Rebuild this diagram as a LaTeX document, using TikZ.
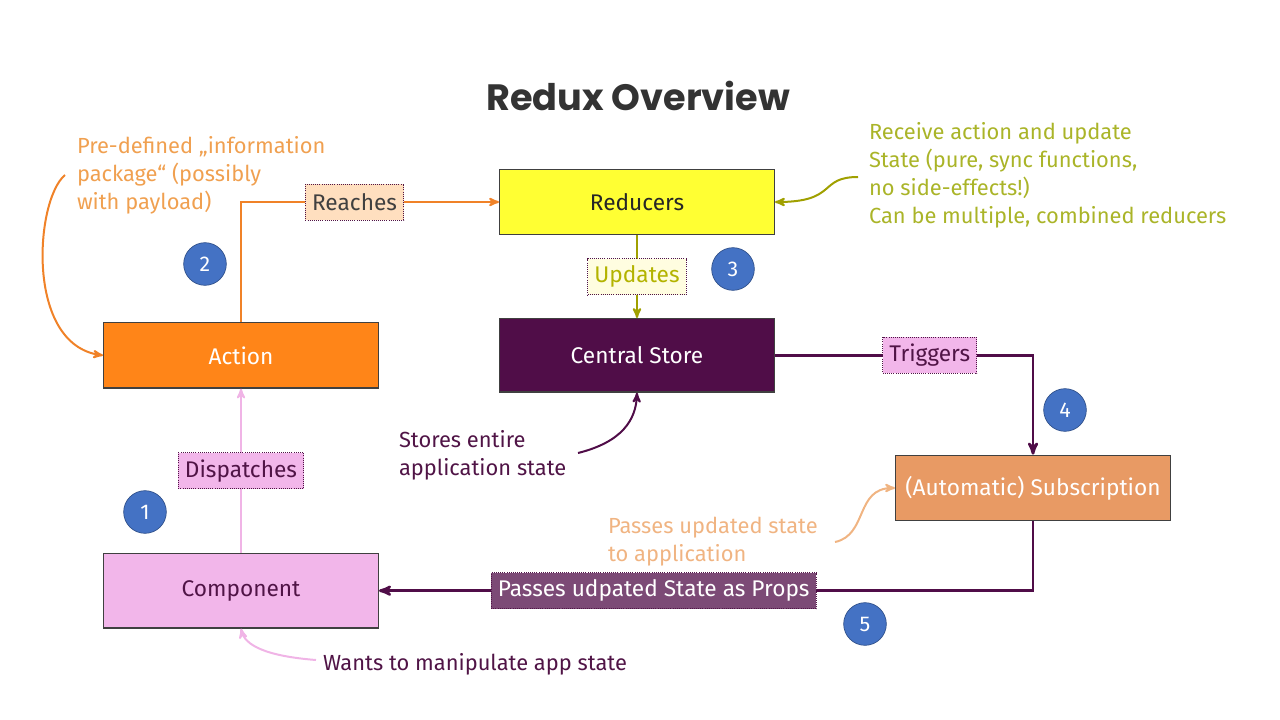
\documentclass[tikz,border=0pt]{standalone}
\usepackage{fontspec}
\setmainfont{Fira Sans}
\newfontfamily\titlefont{Poppins}
\usetikzlibrary{arrows}
\usetikzlibrary{positioning}

\definecolor{actfill}{RGB}{255,133,24}
\definecolor{redfill}{RGB}{255,255,51}
\definecolor{storefill}{RGB}{80,13,72}
\definecolor{subfill}{RGB}{232,154,100}
\definecolor{compfill}{RGB}{242,182,234}
\definecolor{numblue}{RGB}{68,114,196}
\definecolor{orangeline}{RGB}{240,130,40}
\definecolor{orangetext}{RGB}{240,160,80}
\definecolor{oliveline}{RGB}{160,160,0}
\definecolor{olivetext}{RGB}{170,180,40}
\definecolor{purpletext}{RGB}{80,20,70}
\definecolor{peachtext}{RGB}{240,180,130}
\definecolor{pinkline}{RGB}{240,180,230}

\begin{document}
\begin{tikzpicture}[x=0.75pt,y=-0.75pt,>=stealth',line width=1.5pt,
  main node/.style={rectangle,draw=black!75,line width=1pt,minimum width=206pt,minimum height=49pt,font=\fontsize{17}{20}\selectfont},
  tag node/.style={rectangle,draw=purpletext,densely dotted,line width=0.6pt,minimum height=27pt,inner xsep=5pt,font=\fontsize{17}{20}\selectfont},
  num node/.style={circle,fill=numblue,draw=numblue!70!black,line width=0.5pt,minimum size=32pt,inner sep=0pt,text=white,font=\fontsize{16}{18}\selectfont},
  note node/.style={align=left,inner sep=0pt,anchor=north west,font=\fontsize{16.4}{21}\selectfont}]

  \useasboundingbox (0,0) rectangle (1280,720);

  % title
  \node[font=\titlefont\bfseries\fontsize{27.5}{32}\selectfont,text=black!80] (title) at (638,96) {Redux Overview};

  % boxes
  \node[main node,fill=redfill,text=black!85] (Red) at (637,202) {Reducers};
  \node[main node,fill=storefill,text=white,minimum height=55pt] (CS) [below=62pt of Red] {Central Store};
  \node[main node,fill=actfill,text=white] (Act) [left=90pt of CS] {Action};
  \node[main node,fill=compfill,text=purpletext,minimum height=56pt] (Comp) [below=123pt of Act] {Component};
  \node[main node,fill=subfill,text=white] (Sub) [below right=46.5pt and 90pt of CS] {(Automatic) Subscription};

  % steps
  \node[num node] (n1) at (145,512) {1};
  \node[num node] (n2) at (205,264) {2};
  \node[num node] (n3) at (733,269) {3};
  \node[num node] (n4) at (1065,410) {4};
  \node[num node] (n5) at (865,624) {5};

  % notes
  \node[note node,text=orangetext] (NAct) at (76,135) {Pre-defined „information\\package“ (possibly\\with payload)};
  \node[note node,text=olivetext] (NRed) at (868,121) {Receive action and update\\State (pure, sync functions,\\no side-effects!)\\Can be multiple, combined reducers};
  \node[note node,text=purpletext] (NCS) at (398,429) {Stores entire\\application state};
  \node[note node,text=peachtext] (NSub) at (607,516) {Passes updated state\\to application};
  \node[note node,text=purpletext] (NComp) at (322,652) {Wants to manipulate app state};

  \coordinate (cAct) at (65,175);
  \coordinate (cRed) at (858,177);
  \coordinate (cCS) at (578,453);
  \coordinate (cSub) at (835,542);
  \coordinate (cComp) at (316,660);

  % flow
  \draw[->,pinkline] (Comp) -- node[tag node,fill=compfill,text=purpletext] {Dispatches} (Act);
  \draw[->,orangeline] (Act.north) |- node[tag node,fill=orange!25,text=black!75,pos=0.72] {Reaches} (Red.west);
  \draw[->,oliveline] (Red) -- node[tag node,fill=yellow!12,text=oliveline!80!yellow] {Updates} (CS);
  \draw[->,storefill,line width=2pt] (CS.east) -| node[tag node,fill=compfill,text=purpletext,pos=0.3] {Triggers} (Sub.north);
  \draw[->,storefill,line width=2pt] (Sub.south) |- node[tag node,fill=storefill!75!white,text=white,pos=0.79] {Passes udpated State as Props} (Comp.east);

  % note pointers
  \draw[->,orangeline] (cAct) .. controls (35,200) and (25,345) .. (Act.west);
  \draw[->,oliveline] (cRed) .. controls (818,177) and (838,202) .. (Red.east);
  \draw[->,storefill] (cCS) .. controls (622,442) and (636,420) .. (CS.south);
  \draw[->,peachtext] (cSub) .. controls (868,535) and (855,488) .. (Sub.west);
  \draw[->,pinkline] (cComp) .. controls (265,656) and (245,645) .. (Comp.south);
\end{tikzpicture}
\end{document}
